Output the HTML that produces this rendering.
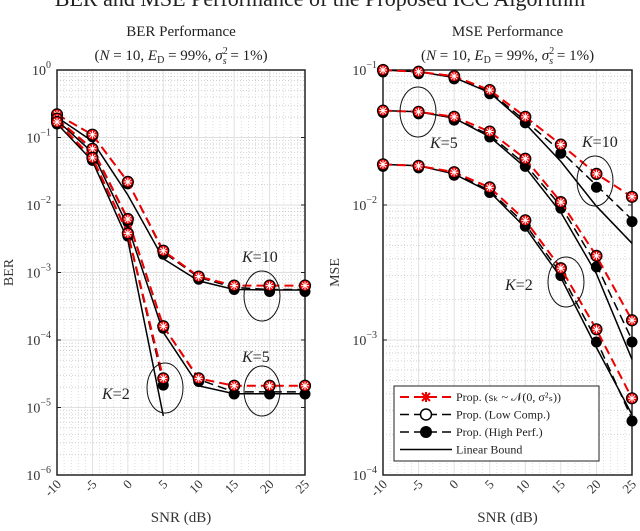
<!DOCTYPE html>
<html><head><meta charset="utf-8">
<style>
html,body{margin:0;padding:0;background:#fff;}
svg{display:block;font-family:"Liberation Serif",serif;}
</style></head>
<body>
<svg id="chart" width="640" height="531" viewBox="0 0 640 531" xmlns="http://www.w3.org/2000/svg">
<text x="320" y="6" font-size="22" text-anchor="middle" fill="#222">BER and MSE Performance of the Proposed ICC Algorithm</text>
</svg>
<script>
const snr = [-10,-5,0,5,10,15,20,25];
const xTicks = ["-10","-5","0","5","10","15","20","25"];
// BER panel
const berK10Prop = [0.22,0.11,0.022,0.0021,0.00087,0.00064,0.00064,0.00064];
const berK10High = [0.22,0.11,0.022,0.0020,0.00085,0.00060,0.00056,0.00056];
const berK10Bound = [0.20,0.088,0.014,0.0016,0.00075,0.00056,0.00055,0.00055];
const berK5Prop = [0.19,0.068,0.0062,0.00016,0.000027,0.000021,0.000021,0.000021];
const berK5High = [0.19,0.066,0.0060,0.00016,0.000026,0.000017,0.000017,0.000017];
const berK5Bound = [0.18,0.060,0.0048,0.00013,0.000021,0.000016,0.000016,0.000016];
const berK2Prop = [0.17,0.050,0.0038,0.000027];
const berK2High = [0.17,0.049,0.0037,0.000023];
const berK2Bound = [0.16,0.045,0.0030,0.0000075];
// MSE panel
const mseK10Prop = [0.1,0.097,0.09,0.071,0.045,0.028,0.017,0.0115];
const mseK10High = [0.1,0.097,0.089,0.069,0.042,0.025,0.014,0.0078];
const mseK10Bound = [0.1,0.097,0.088,0.068,0.040,0.021,0.0098,0.0052];
const mseK5Prop = [0.05,0.049,0.045,0.035,0.022,0.0105,0.0042,0.0014];
const mseK5High = [0.05,0.049,0.044,0.033,0.020,0.0098,0.0036,0.0010];
const mseK5Bound = [0.05,0.049,0.044,0.032,0.019,0.0088,0.0031,0.00072];
const mseK2Prop = [0.02,0.0195,0.0175,0.0135,0.0077,0.0034,0.0012,0.00037];
const mseK2High = [0.02,0.0195,0.0172,0.0128,0.0072,0.0031,0.0010,0.00026];
const mseK2Bound = [0.02,0.0195,0.0170,0.0125,0.0068,0.0029,0.00088,0.00028];

const NS="http://www.w3.org/2000/svg";
const svg=document.getElementById('chart');
function mk(tag,attrs,parent){const e=document.createElementNS(NS,tag);for(const k in attrs)e.setAttribute(k,attrs[k]);(parent||svg).appendChild(e);return e;}

function panel(cfg){
  const g=mk('g',{});
  
  
  const sx=v=>cfg.x0+(v-(-10))/35*(cfg.x1-cfg.x0);
  const sy=v=>cfg.y0+(cfg.eTop-Math.log10(v))/(cfg.eTop-cfg.eBot)*(cfg.y1-cfg.y0);
  for(let e=cfg.eBot;e<cfg.eTop;e++){for(let m=2;m<=9;m++){const y=sy(m*Math.pow(10,e));
    const l=mk('line',{x1:cfg.x0,x2:cfg.x1,y1:y,y2:y,stroke:'#c8c8c8','stroke-width':0.8,'stroke-dasharray':'1,2'},g);
    }}
  for(let i=0;i<snr.length;i++){const x=sx(snr[i]);
    const l=mk('line',{x1:x,x2:x,y1:cfg.y0,y2:cfg.y1,stroke:'#e0e0e0','stroke-width':1},g);
    
    for(let k=1;k<5;k++){const xm=sx(snr[i]+k);if(snr[i]<25){const d=mk('line',{x1:xm,x2:xm,y1:cfg.y0,y2:cfg.y1,stroke:'#d0d0d0','stroke-width':0.7,'stroke-dasharray':'1,2'},g);
      }}
    const t=mk('text',{x:0,y:0,'font-size':13,fill:'#333','text-anchor':'end',transform:`translate(${x+5},${cfg.y1+10}) rotate(-45)`},g);
    t.textContent=xTicks[i];
  }
  for(let e=cfg.eBot;e<=cfg.eTop;e++){const y=sy(Math.pow(10,e));
    const l=mk('line',{x1:cfg.x0,x2:cfg.x1,y1:y,y2:y,stroke:'#e0e0e0','stroke-width':1},g);
    
    const t=mk('text',{x:cfg.x0-6,y:y+5,'font-size':14,fill:'#333','text-anchor':'end'},g);
    t.innerHTML='10<tspan dy="-7" font-size="10">'+(e<0?'\u2212'+(-e):e)+'</tspan>';
    
    mk('line',{x1:cfg.x0,x2:cfg.x0+4,y1:y,y2:y,stroke:'#222'},g);mk('line',{x1:cfg.x1,x2:cfg.x1-4,y1:y,y2:y,stroke:'#222'},g);
  }
  const frame=mk('rect',{x:cfg.x0,y:cfg.y0,width:cfg.x1-cfg.x0,height:cfg.y1-cfg.y0,fill:'none',stroke:'#222','stroke-width':1.5},g);
  
  const pts=arr=>arr.map((v,i)=>sx(snr[i]).toFixed(1)+','+sy(v).toFixed(1)).join(' ');
  cfg.series.forEach(s=>{
    const b=mk('polyline',{points:pts(s.bound),fill:'none',stroke:'#000','stroke-width':1.5},g);
    
    const h=mk('polyline',{points:pts(s.high),fill:'none',stroke:'#000','stroke-width':1.5,'stroke-dasharray':'9,5'},g);
    
    s.high.forEach((v,i)=>{const c=mk('circle',{cx:sx(snr[i]),cy:sy(v)+2,r:5.5,fill:'#000'},g);
      });
    const p=mk('polyline',{points:pts(s.prop),fill:'none',stroke:'#e00','stroke-width':2,'stroke-dasharray':'9,5'},g);
    
    s.prop.forEach((v,i)=>{const x=sx(snr[i]),y=sy(v);
      const c=mk('circle',{cx:x,cy:y,r:5.5,fill:'#e00',stroke:'#000','stroke-width':1.2},g);
      
      const a=mk('path',{d:`M${x-4},${y}H${x+4}M${x},${y-4}V${y+4}M${x-3},${y-3}L${x+3},${y+3}M${x-3},${y+3}L${x+3},${y-3}`,stroke:'#fff','stroke-width':1},g);
      });
  });
  cfg.notes.forEach(n=>{
    if(n.e){const el=mk('ellipse',{cx:n.e[0],cy:n.e[1],rx:n.e[2],ry:n.e[3],fill:'none',stroke:'#111','stroke-width':1},g);
      }
    const t=mk('text',{x:n.x,y:n.y,'font-size':16,fill:'#222'},g);
    t.innerHTML='<tspan font-style="italic">K</tspan>='+n.k;
  });
  const t1=mk('text',{x:(cfg.x0+cfg.x1)/2,y:36,'font-size':15,'text-anchor':'middle',fill:'#222'},g);
  t1.textContent=cfg.title;
  const t2=mk('text',{x:(cfg.x0+cfg.x1)/2,y:60,'font-size':15,'text-anchor':'middle',fill:'#222'},g);
  t2.innerHTML='(<tspan font-style="italic">N</tspan> = 10, <tspan font-style="italic">E</tspan><tspan font-size="10" dy="3">D</tspan><tspan dy="-3"> = 99%, </tspan><tspan font-style="italic">σ</tspan><tspan font-size="10" dy="-6">2</tspan><tspan font-size="10" font-style="italic" dx="-5" dy="10">s</tspan><tspan dy="-4"> = 1%)</tspan>';
  
  const xl=mk('text',{x:(cfg.x0+cfg.x1)/2,y:522,'font-size':15,'text-anchor':'middle',fill:'#333'},g);
  xl.textContent='SNR (dB)';
  const yl=mk('text',{x:0,y:0,'font-size':14,'text-anchor':'middle',fill:'#333',transform:`translate(${cfg.ylx},${(cfg.y0+cfg.y1)/2}) rotate(-90)`},g);
  yl.textContent=cfg.ylabel;
}

panel({name:'ber-panel',title:'BER Performance',ylabel:'BER',ylx:13,x0:57,x1:305,y0:70,y1:475,eTop:0,eBot:-6,
  series:[{id:'ber-k10',prop:berK10Prop,high:berK10High,bound:berK10Bound},
          {id:'ber-k5',prop:berK5Prop,high:berK5High,bound:berK5Bound},
          {id:'ber-k2',prop:berK2Prop,high:berK2High,bound:berK2Bound}],
  notes:[{k:10,x:242,y:262,e:[262,296,18,25]},{k:5,x:242,y:362,e:[262,391,18,25]},{k:2,x:102,y:399,e:[165,388,18,25]}]});
panel({name:'mse-panel',title:'MSE Performance',ylabel:'MSE',ylx:339,x0:383,x1:632,y0:70,y1:475,eTop:-1,eBot:-4,
  series:[{id:'mse-k10',prop:mseK10Prop,high:mseK10High,bound:mseK10Bound},
          {id:'mse-k5',prop:mseK5Prop,high:mseK5High,bound:mseK5Bound},
          {id:'mse-k2',prop:mseK2Prop,high:mseK2High,bound:mseK2Bound}],
  notes:[{k:10,x:582,y:147,e:[595,181,18,25]},{k:5,x:430,y:148,e:[418,112,18,25]},{k:2,x:505,y:290,e:[566,282,18,25]}]});

const lg=mk('g',{});


mk('rect',{x:394,y:386,width:205,height:75,fill:'#fff',stroke:'#222','stroke-width':1},lg);
const labels=['Prop. (s\u2096 ~ \uD835\uDCA9(0, σ²ₛ))','Prop. (Low Comp.)','Prop. (High Perf.)','Linear Bound'];
labels.forEach((lab,i)=>{const y=397+i*17.5;
  const ln=mk('line',{x1:400,x2:452,y1:y,y2:y,stroke:i==0?'#e00':'#000','stroke-width':i==0?2:1.5,'stroke-dasharray':i==3?'':'9,5'},lg);
  
  if(i==0){mk('path',{d:'M421,397H431M426,392V402M422,393L430,401M422,401L430,393',stroke:'#e00','stroke-width':2},lg);}
  if(i==1){mk('circle',{cx:426,cy:y,r:5.5,fill:'#fff',stroke:'#000','stroke-width':1.5},lg);}
  if(i==2){mk('circle',{cx:426,cy:y,r:6,fill:'#000'},lg);}
  const t=mk('text',{x:456,y:y+4,'font-size':12,fill:'#222'},lg);
  t.textContent=lab;
});
</script>
</body></html>
